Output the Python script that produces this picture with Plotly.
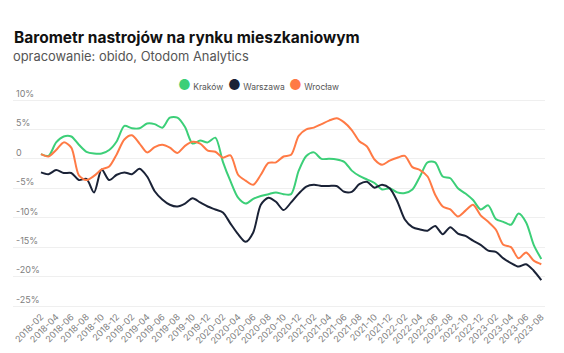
import plotly.graph_objects as go

months = [
    "2018-02", "2018-03", "2018-04", "2018-05", "2018-06", "2018-07", "2018-08", "2018-09", "2018-10", "2018-11", "2018-12",
    "2019-01", "2019-02", "2019-03", "2019-04", "2019-05", "2019-06", "2019-07", "2019-08", "2019-09", "2019-10", "2019-11", "2019-12",
    "2020-01", "2020-02", "2020-03", "2020-04", "2020-05", "2020-06", "2020-07", "2020-08", "2020-09", "2020-10", "2020-11", "2020-12",
    "2021-01", "2021-02", "2021-03", "2021-04", "2021-05", "2021-06", "2021-07", "2021-08", "2021-09", "2021-10", "2021-11", "2021-12",
    "2022-01", "2022-02", "2022-03", "2022-04", "2022-05", "2022-06", "2022-07", "2022-08", "2022-09", "2022-10", "2022-11", "2022-12",
    "2023-01", "2023-02", "2023-03", "2023-04", "2023-05", "2023-06", "2023-07", "2023-08",
]

krakow = [
    0.8, 0.5, 2.8, 3.8, 3.8, 2.4, 1.2, 0.9, 0.9, 1.5, 3.0,
    5.6, 5.2, 5.2, 6.0, 5.9, 5.3, 7.0, 7.0, 5.4, 2.6, 3.1, 2.8,
    3.6, -0.5, -3.8, -6.6, -7.6, -6.8, -6.3, -6.0, -5.7, -6.0, -6.0, -2.0,
    0.5, 1.1, 0.0, 0.0, -0.1, -0.5, -2.0, -2.9, -3.5, -4.1, -5.2, -5.0,
    -5.7, -5.8, -5.2, -3.0, -0.6, -0.6, -3.0, -3.3, -5.0, -5.9, -7.0, -8.6,
    -7.9, -10.2, -10.7, -11.2, -9.3, -10.8, -14.6, -17.0,
]

warszawa = [
    -2.3, -2.6, -1.9, -2.4, -2.4, -3.6, -3.4, -5.7, -1.8, -3.6, -2.7,
    -2.3, -2.6, -1.7, -3.0, -5.5, -6.9, -7.8, -8.1, -7.6, -6.7, -7.4, -8.1,
    -8.6, -9.1, -11.0, -12.8, -14.1, -12.5, -7.8, -6.6, -7.3, -8.7, -7.4, -5.9,
    -4.7, -4.4, -4.6, -4.6, -4.6, -5.6, -5.6, -4.3, -3.9, -4.9, -4.4, -5.0,
    -7.2, -10.3, -11.6, -12.0, -12.2, -11.4, -12.8, -11.6, -12.7, -13.1, -13.9, -14.6,
    -15.6, -15.8, -16.9, -17.7, -18.3, -17.9, -19.0, -20.6,
]

wroclaw = [
    0.8, 0.4, 1.5, 2.8, 1.9, -2.8, -3.6, -2.9, -1.8, -1.3, 0.8,
    3.3, 4.0, 2.6, 1.1, 2.0, 2.4, 1.9, 1.0, 2.2, 2.9, 2.6, 1.4,
    1.2, 0.2, 0.6, -2.7, -3.7, -4.4, -2.7, -0.7, -0.6, 0.4, 0.7, 3.9,
    5.0, 5.3, 5.9, 6.5, 6.9, 6.2, 4.9, 3.0, 2.1, -0.1, -1.0, -0.3,
    0.2, 0.5, -1.4, -1.9, -3.0, -6.1, -8.1, -8.6, -9.8, -8.8, -7.8, -9.6,
    -10.7, -12.0, -14.6, -15.0, -16.9, -15.9, -17.3, -17.9,
]

series_names = ["Kraków", "Warszawa", "Wrocław"]
series_values = [krakow, warszawa, wroclaw]
series_colors = ["#3ccf78", "#1a2236", "#ff7a45"]

y_ticks = [10, 5, 0, -5, -10, -15, -20, -25]
y_tick_text = ["10%", "5%", "0", "-5%", "-10%", "-15%", "-20%", "-25%"]
x_ticks = months[::2]

FONT = "Inter"
W, H = 564, 353
L, R, T, B = 13, 19, 80, 44
PW, PH = W - L - R, H - T - B
UNIT = 206 / 35  # pixels per percentage point


def px_x(x):
    return (x - L) / PW


def px_y(y):
    return (H - B - y) / PH


fig = go.Figure()
for name, vals, col in zip(series_names, series_values, series_colors):
    fig.add_trace(go.Scatter(
        x=months, y=vals, mode="lines", name=name, showlegend=False,
        line=dict(color=col, width=2, shape="spline", smoothing=0.8),
        hoverinfo="skip",
    ))

legend_ids = ["legend", "legend2", "legend3"]
legend_left_x = [178, 228, 289]
for name, col, lid in zip(series_names, series_colors, legend_ids):
    fig.add_trace(go.Scatter(
        x=[None], y=[None], mode="markers", legend=lid,
        name=f'<span style="font-size:14px;color:{col}">●</span> {name}',
        marker=dict(color="rgba(0,0,0,0)", size=0, line=dict(width=0)),
    ))

legend_common = dict(
    orientation="h", xanchor="left", yanchor="middle",
    y=px_y(87),
    font=dict(family=FONT, size=8.5, color="#555555"),
    itemwidth=30,
    bgcolor="rgba(0,0,0,0)", borderwidth=0,
)
legends = {}
for lid, lx in zip(legend_ids, legend_left_x):
    legends[lid] = dict(x=px_x(lx - 40), **legend_common)

fig.update_layout(
    width=W, height=H,
    margin=dict(l=L, r=R, t=T, b=B),
    paper_bgcolor="white", plot_bgcolor="white",
    font=dict(family=FONT, color="#666666"),
    title=dict(
        text="<b>Barometr nastrojów na rynku mieszkaniowym</b>",
        x=14 / W, xanchor="left", xref="container",
        y=1 - 38 / H, yanchor="middle", yref="container",
        font=dict(family=FONT, size=15.5, color="#111111"),
    ),
    annotations=[dict(
        text="opracowanie: obido, Otodom Analytics",
        xref="paper", yref="paper", x=px_x(11), xanchor="left",
        y=px_y(56), yanchor="middle", showarrow=False,
        font=dict(family=FONT, size=12.9, color="#555555"),
    )],
    xaxis=dict(
        type="category", range=[-3.69, 66.49],
        tickmode="array", tickvals=x_ticks, ticktext=x_ticks,
        tickangle=-45, tickfont=dict(family=FONT, size=9, color="#808080"),
        showgrid=False, showline=False, zeroline=False, ticks="",
        automargin=False,
    ),
    yaxis=dict(
        range=[-25 - (H - B - 306) / UNIT, 10 + (100 - T) / UNIT],
        tickmode="array", tickvals=y_ticks, ticktext=y_tick_text,
        ticklabelposition="inside top",
        tickfont=dict(family=FONT, size=9, color="#808080"),
        showgrid=True, gridcolor="#efefef", gridwidth=1,
        zeroline=False, showline=False, ticks="",
        automargin=False,
    ),
    **legends,
)

fig.write_html("out.html")
